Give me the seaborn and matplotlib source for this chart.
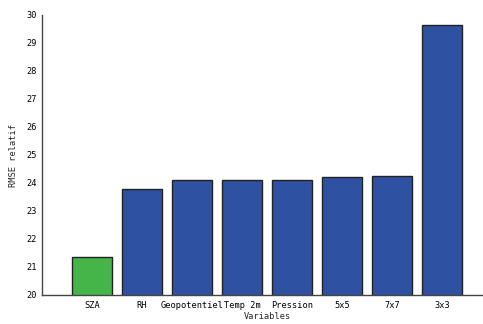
import pandas as pd
import matplotlib
matplotlib.use('Agg')
import matplotlib.pyplot as plt
import seaborn as sns

# Data
variables = ['SZA', 'RH', 'Geopotentiel', 'Temp 2m', 'Pression', '5x5', '7x7', '3x3']
rmse = [21.35, 23.8, 24.1, 24.1, 24.1, 24.22, 24.25, 29.63]
bar_colors = ['#46b549', '#2e51a2', '#2e51a2', '#2e51a2', '#2e51a2', '#2e51a2', '#2e51a2', '#2e51a2']

df = pd.DataFrame({'Variables': variables, 'RMSE': rmse})

sns.set_style('white')
plt.rcParams['font.family'] = ['DejaVu Sans Mono']

fig = plt.figure(figsize=(4.83, 3.24), dpi=100)
ax = fig.add_axes([42 / 483, 29 / 324, 450 / 483, 280 / 324])

sns.barplot(data=df, x='Variables', y='RMSE', hue='Variables', palette=bar_colors,
            legend=False, width=0.8, saturation=1, edgecolor='#222222', linewidth=1.0, ax=ax)

ax.set_xlim(-1, 8)
ax.set_ylim(20, 30)
ax.set_yticks(range(20, 31))
ax.set_xlabel('Variables', fontsize=6.2, labelpad=2)
ax.set_ylabel('RMSE relatif', fontsize=6.2, labelpad=6)
ax.tick_params(axis='both', direction='in', length=3, labelsize=6.2, width=0.8, colors='#333333')
ax.tick_params(axis='x', length=0, pad=4)
for lbl in ax.get_xticklabels() + ax.get_yticklabels():
    lbl.set_color('black')

for side in ['top', 'right']:
    ax.spines[side].set_visible(False)
for side in ['left', 'bottom']:
    ax.spines[side].set_color('#444444')
    ax.spines[side].set_linewidth(1.0)

fig.savefig('out.png', dpi=100)
